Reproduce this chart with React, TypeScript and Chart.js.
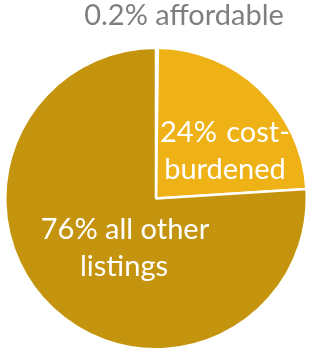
import React, { useEffect, useRef } from "react";
import { Chart, registerables } from "chart.js";

Chart.register(...registerables);

const categories = ["affordable", "cost-burdened", "all other listings"];
const shares = [0.2, 23.8, 76];
const colors = ["#FFFFFF", "#EEB116", "#C5940E"];

const FONT = "Lato, 'Open Sans', sans-serif";

const labelPlugin = {
  id: "sliceLabels",
  afterDraw(chart: any) {
    const ctx = chart.ctx;
    const meta = chart.getDatasetMeta(0);
    const arc = meta.data[0];
    if (!arc) return;
    const cx = arc.x;
    const cy = arc.y;
    ctx.save();
    ctx.font = `29px ${FONT}`;
    ctx.textBaseline = "alphabetic";
    ctx.fillStyle = "#7F7F7F";
    ctx.textAlign = "center";
    ctx.fillText("0.2% affordable", cx + 28, 25);
    ctx.fillStyle = "#FFFFFF";
    ctx.textAlign = "left";
    ctx.fillText("24%", cx + 4, cy - 57);
    ctx.textAlign = "right";
    ctx.fillText("cost-", cx + 134, cy - 57);
    ctx.textAlign = "center";
    ctx.fillText("burdened", cx + 69, cy - 20);
    ctx.fillText("76% all other", cx - 31, cy + 40);
    ctx.fillText("listings", cx - 32, cy + 77);
    ctx.restore();
  },
};

export default function App() {
  const ref = useRef<HTMLCanvasElement>(null);
  useEffect(() => {
    if (!ref.current) return;
    const chart = new Chart(ref.current, {
      type: "pie",
      data: {
        labels: categories,
        datasets: [
          {
            data: shares,
            backgroundColor: colors,
            borderColor: "#FFFFFF",
            borderWidth: 2.5,
            hoverOffset: 0,
            offset: 0,
          },
        ],
      },
      options: {
        animation: false,
        responsive: false,
        rotation: 0,
        layout: { padding: { top: 46, left: 4, right: 1, bottom: 2 } },
        plugins: {
          legend: { display: false },
          tooltip: { enabled: false },
          title: { display: false },
        },
      },
      plugins: [labelPlugin],
    });
    return () => chart.destroy();
  }, []);
  return (
    <div style={{ position: "absolute", left: 0, top: 0, width: 309, height: 353, background: "#FFFFFF" }}>
      <canvas ref={ref} width={309} height={353} style={{ width: 309, height: 353 }} />
    </div>
  );
}
